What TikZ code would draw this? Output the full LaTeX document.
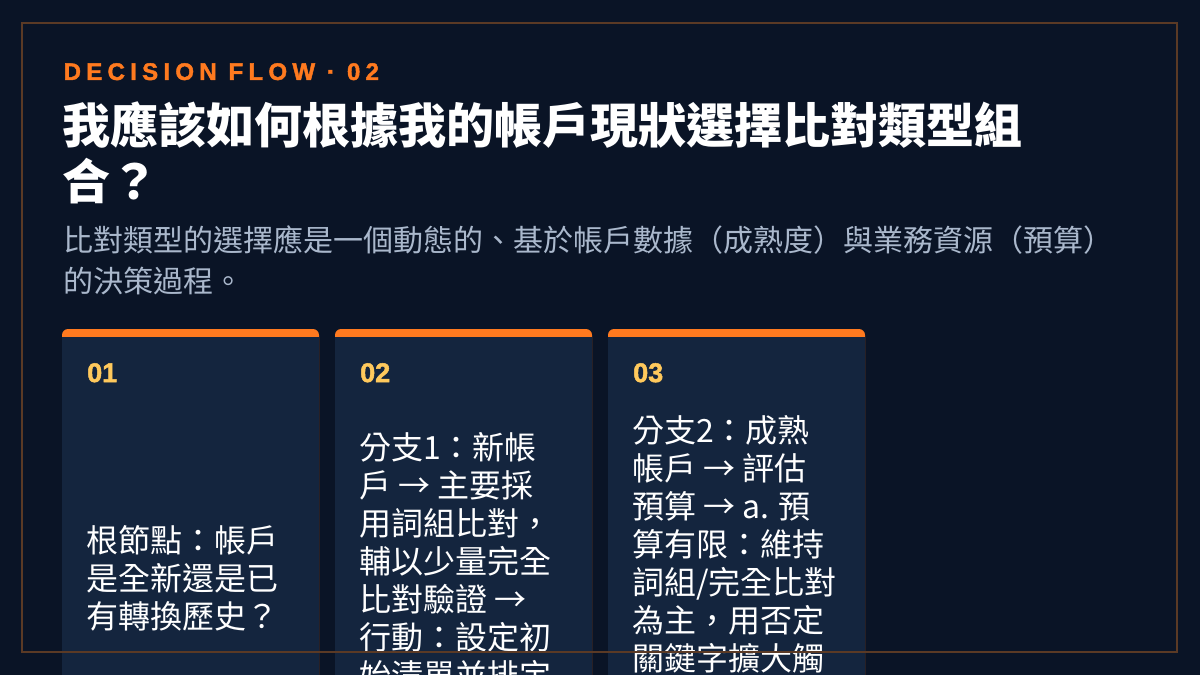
\documentclass[tikz,border=0pt]{standalone}
\usepackage{fontspec}
\setmainfont{Liberation Sans}
\newfontfamily\cjkfont{Noto Sans CJK TC}
\newfontfamily\kickerfont[LetterSpace=22, FakeBold=1.8]{Liberation Sans Bold}
\newfontfamily\numfont[FakeBold=1.8]{Liberation Sans Bold}
\definecolor{pagebg}{HTML}{0A1426}
\definecolor{cardbg}{HTML}{14253E}
\definecolor{accent}{HTML}{FF7A1F}
\definecolor{numcolor}{HTML}{FFC95C}
\definecolor{leadcolor}{HTML}{AAB8CC}
\definecolor{framecolor}{HTML}{5B3A25}
\tikzset{
	kicker/.style={anchor=north west, inner sep=0pt, text=accent, font=\kickerfont\fontsize{24}{28}\selectfont},
	headline/.style={anchor=north west, inner sep=0pt, align=left, text=white, font=\cjkfont\bfseries\fontsize{48}{56}\selectfont},
	lead/.style={anchor=north west, inner sep=0pt, align=left, text=leadcolor, font=\cjkfont\fontsize{30}{41}\selectfont},
	cardnum/.style={anchor=north west, inner sep=0pt, text=numcolor, font=\numfont\fontsize{27}{30}\selectfont},
	cardtext/.style={anchor=north west, inner sep=0pt, align=left, text=white, font=\cjkfont\fontsize{32}{38}\selectfont},
	cardtop/.style={fill=accent, rounded corners=6pt},
	cardbody/.style={fill=cardbg}
}
\begin{document}
\begin{tikzpicture}[x=1pt, y=-1pt]
	\useasboundingbox (0,0) rectangle (1200,675);
	\clip (0,0) rectangle (1200,675);
	\fill [color=pagebg] (0,0) rectangle (1200,675);
	\node [kicker] (kicker) at (63.5,63) {DECISION FLOW · 02};
	\node [headline] (title) at (62,102) {我應該如何根據我的帳戶現狀選擇比對類型組\\合？};
	\node [lead] (lead) at (63,225) {比對類型的選擇應是一個動態的、基於帳戶數據（成熟度）與業務資源（預算）\\的決策過程。};
	\fill [cardtop] (62,329) rectangle (319,700);
	\fill [cardbody] (62,337) rectangle (319,700);
	\fill [cardtop] (335,329) rectangle (592,700);
	\fill [cardbody] (335,337) rectangle (592,700);
	\fill [cardtop] (608,329) rectangle (865,700);
	\fill [cardbody] (608,337) rectangle (865,700);
	\node [cardnum] (num1) at (87,363) {01};
	\node [cardnum] (num2) at (360,363) {02};
	\node [cardnum] (num3) at (633,363) {03};
	\node [cardtext] (text1) at (86,525) {根節點：帳戶\\是全新還是已\\有轉換歷史？};
	\node [cardtext] (text2) at (359,432) {分支1：新帳\\戶 → 主要採\\用詞組比對，\\輔以少量完全\\比對驗證 →\\行動：設定初\\始清單並排定};
	\node [cardtext] (text3) at (632,415) {分支2：成熟\\帳戶 → 評估\\預算 → a. 預\\算有限：維持\\詞組/完全比對\\為主，用否定\\關鍵字擴大觸};
	\draw [color=framecolor, line width=2pt] (22,23) rectangle (1177,652);
\end{tikzpicture}
\end{document}
